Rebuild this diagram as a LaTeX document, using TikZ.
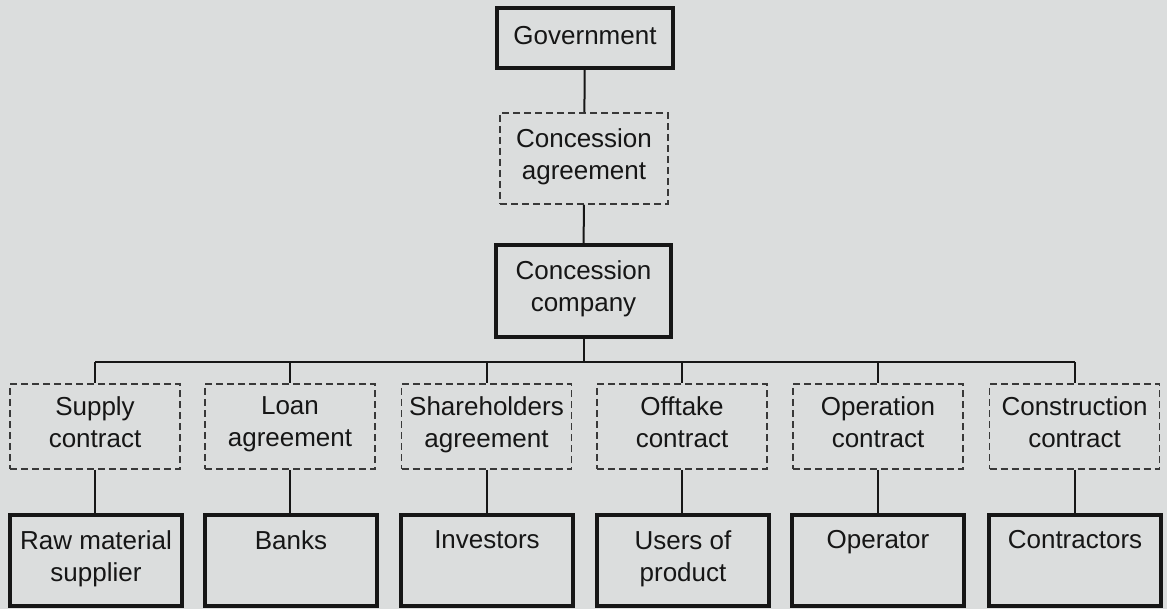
\documentclass[tikz,border=0pt]{standalone}
\usepackage{fontspec}
\setmainfont{Liberation Sans}
\definecolor{paper}{RGB}{219,221,221}
\definecolor{ink}{RGB}{22,22,22}
\tikzset{
  party/.style={draw=ink, line width=3.4pt, align=center, inner sep=0pt,
                minimum width=172, minimum height=91},
  deal/.style={draw=ink!85, line width=1.5pt, dash pattern=on 7pt off 4pt,
               align=center, inner sep=0pt, minimum width=170, minimum height=85},
  link/.style={draw=ink, line width=2pt}
}
\begin{document}
\begin{tikzpicture}[x=1pt, y=-1pt, every node/.style={text=ink, font=\fontsize{26}{32}\selectfont,
    execute at begin node=\strut, execute at end node=\strut}]
    \fill[paper] (0,0) rectangle (1167,609);
    \useasboundingbox (0,0) rectangle (1167,609);
    % top of the chart
    \node[party, minimum width=176, minimum height=60] (gov) at (585,38) {Government};
    \node[deal, minimum width=168, minimum height=91] (agree) at (584,158.5) {Concession\\agreement};
    \node[party, minimum width=175, minimum height=92] (company) at (583.5,291) {Concession\\company};
    \coordinate (bus) at (583.5,362);
    % contracts
    \node[deal] (supply)    at (95,426.5)   {Supply\\contract};
    \node[deal] (loan)      at (290,426.5)  {Loan\\agreement};
    \node[deal] (shares)    at (486.5,426.5) {Shareholders\\agreement};
    \node[deal] (offtake)   at (682,426.5)  {Offtake\\contract};
    \node[deal] (operation) at (878,426.5)  {Operation\\contract};
    \node[deal] (construct) at (1074.5,426.5) {Construction\\contract};
    % parties
    \node[party] (rawmat)      at (96,560.5)   {Raw material\\supplier};
    \node[party] (banks)       at (291,560.5)  {Banks\\\mbox{}};
    \node[party] (investors)   at (487,560.5)  {Investors\\\mbox{}};
    \node[party] (users)       at (683,560.5)  {Users of\\product};
    \node[party] (operator)    at (878,560.5)  {Operator\\\mbox{}};
    \node[party] (contractors) at (1075,560.5) {Contractors\\\mbox{}};
    % connectors
    \draw[link] (gov) -- (agree);
    \draw[link] (agree) -- (company);
    \draw[link] (company) -- (bus);
    \draw[link] (supply.north |- bus) -- (construct.north |- bus);
    \draw[link] (supply.north |- bus) -- (supply.north);
    \draw[link] (loan.north |- bus) -- (loan.north);
    \draw[link] (shares.north |- bus) -- (shares.north);
    \draw[link] (offtake.north |- bus) -- (offtake.north);
    \draw[link] (operation.north |- bus) -- (operation.north);
    \draw[link] (construct.north |- bus) -- (construct.north);
    \draw[link] (supply) -- (supply |- rawmat.north);
    \draw[link] (loan) -- (loan |- banks.north);
    \draw[link] (shares) -- (shares |- investors.north);
    \draw[link] (offtake) -- (offtake |- users.north);
    \draw[link] (operation) -- (operator);
    \draw[link] (construct) -- (construct |- contractors.north);
\end{tikzpicture}
\end{document}
